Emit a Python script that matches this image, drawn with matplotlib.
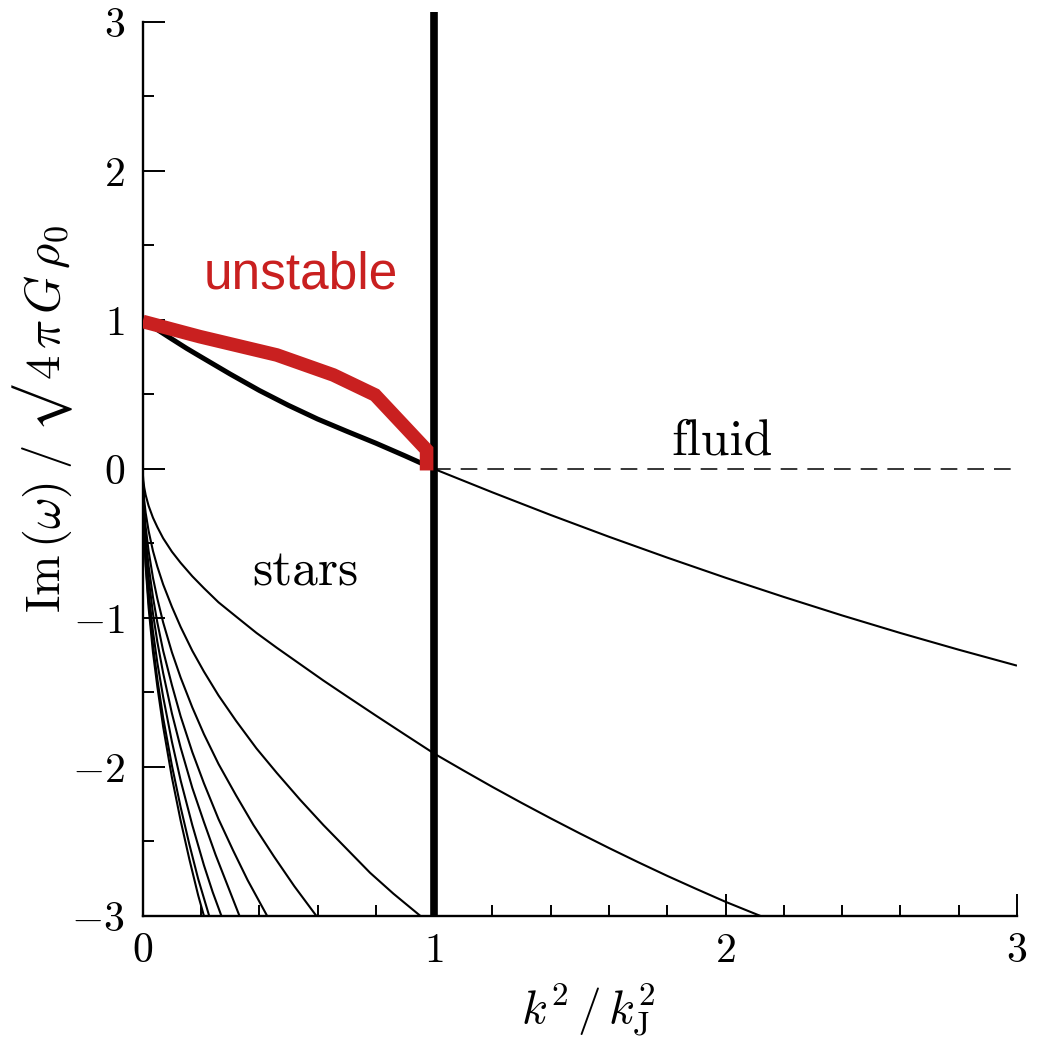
import matplotlib
matplotlib.use("Agg")
import matplotlib.pyplot as plt
from matplotlib.ticker import MultipleLocator, FixedLocator, FixedFormatter

# ---------------- data ----------------
# thick black curve: stellar growth rate for k < kJ
grow_x = [0.0, 0.05, 0.1, 0.15, 0.2, 0.3, 0.4, 0.5, 0.6, 0.7, 0.8, 0.9, 1.0]
grow_y = [1.0, 0.935, 0.872, 0.81, 0.752, 0.637, 0.527, 0.427, 0.335, 0.253, 0.173,
          0.088, 0.0]

# red "unstable" polyline
unst_x = [0.0, 0.196, 0.46, 0.654, 0.797, 0.974, 0.974]
unst_y = [0.99, 0.888, 0.765, 0.631, 0.497, 0.128, -0.01]

# least-damped stellar branch for k > kJ
b_x = [1.0, 1.2, 1.4, 1.6, 1.8, 2.0, 2.2, 2.4, 2.6, 2.8, 3.0]
b_y = [0.0, -0.157, -0.309, -0.455, -0.595, -0.73, -0.859, -0.983, -1.101, -1.213,
       -1.32]

# damped stellar branches starting at the origin
a_x = [0.0, 0.0005, 0.002, 0.005, 0.01, 0.02, 0.035, 0.05, 0.07, 0.1, 0.13, 0.17,
       0.21, 0.26, 0.32, 0.39, 0.46, 0.54, 0.62, 0.7, 0.8, 0.9, 1.0, 1.1, 1.2, 1.3,
       1.4, 1.5, 1.6, 1.7, 1.8, 1.9, 2.0, 2.12]
a_y = [0.0, -0.039, -0.078, -0.124, -0.175, -0.247, -0.327, -0.39, -0.465, -0.555,
       -0.63, -0.72, -0.80, -0.895, -0.99, -1.10, -1.20, -1.31, -1.42, -1.525, -1.655,
       -1.783, -1.91, -2.023, -2.134, -2.241, -2.345, -2.446, -2.544, -2.639, -2.731,
       -2.819, -2.905, -3.0]

c_x = [0.0, 0.0005, 0.002, 0.005, 0.01, 0.02, 0.035, 0.05, 0.07, 0.1, 0.13, 0.17,
       0.21, 0.26, 0.32, 0.39, 0.46, 0.54, 0.62, 0.7, 0.78, 0.86, 0.953]
c_y = [0.0, -0.067, -0.13, -0.21, -0.295, -0.415, -0.55, -0.655, -0.775, -0.925,
       -1.06, -1.22, -1.36, -1.52, -1.69, -1.875, -2.04, -2.22, -2.39, -2.55, -2.71,
       -2.85, -3.0]

d_x = [0.0, 0.0005, 0.002, 0.005, 0.01, 0.02, 0.035, 0.05, 0.07, 0.1, 0.13, 0.17,
       0.21, 0.26, 0.32, 0.38, 0.45, 0.52, 0.596]
d_y = [0.0, -0.087, -0.17, -0.275, -0.39, -0.55, -0.73, -0.87, -1.03, -1.23, -1.40,
       -1.60, -1.78, -1.98, -2.19, -2.39, -2.6, -2.80, -3.0]

e_x = [0.0, 0.0005, 0.002, 0.005, 0.01, 0.02, 0.035, 0.05, 0.07, 0.1, 0.13, 0.17,
       0.21, 0.26, 0.31, 0.36, 0.427]
e_y = [0.0, -0.10, -0.21, -0.325, -0.46, -0.65, -0.86, -1.03, -1.22, -1.45, -1.66,
       -1.90, -2.11, -2.35, -2.56, -2.76, -3.0]

f_x = [0.0, 0.0005, 0.002, 0.005, 0.01, 0.02, 0.035, 0.05, 0.07, 0.1, 0.13, 0.17,
       0.21, 0.25, 0.29, 0.332]
f_y = [0.0, -0.116, -0.23, -0.37, -0.52, -0.73, -0.97, -1.16, -1.37, -1.64, -1.87,
       -2.14, -2.37, -2.59, -2.79, -3.0]

g_x = [0.0, 0.0005, 0.002, 0.005, 0.01, 0.02, 0.035, 0.05, 0.07, 0.1, 0.13, 0.17,
       0.21, 0.24, 0.27]
g_y = [0.0, -0.13, -0.26, -0.41, -0.58, -0.82, -1.09, -1.30, -1.53, -1.83, -2.09,
       -2.39, -2.66, -2.84, -3.0]

h_x = [0.0, 0.0005, 0.002, 0.005, 0.01, 0.02, 0.035, 0.05, 0.07, 0.1, 0.13, 0.16,
       0.19, 0.228]
h_y = [0.0, -0.14, -0.28, -0.445, -0.63, -0.89, -1.18, -1.41, -1.67, -1.99, -2.27,
       -2.52, -2.75, -3.0]

i_x = [0.0, 0.0005, 0.002, 0.005, 0.01, 0.02, 0.035, 0.05, 0.07, 0.1, 0.13, 0.16,
       0.19, 0.21]
i_y = [0.0, -0.15, -0.29, -0.46, -0.655, -0.93, -1.23, -1.46, -1.73, -2.07, -2.36,
       -2.62, -2.86, -3.0]

# fluid (dashed) branch
fluid_x = [1.0, 3.0]
fluid_y = [0.0, 0.0]

# Jeans wavenumber marker
jeans_x = [1.0, 1.0]
jeans_y = [-3.0, 3.065]

x_ticks = [0, 1, 2, 3]
x_tick_labels = [r'$0$', r'$1$', r'$2$', r'$3$']
y_ticks = [-3, -2, -1, 0, 1, 2, 3]
y_tick_labels = [r'$-3$', r'$-2$', r'$-1$', r'$0$', r'$1$', r'$2$', r'$3$']

# ---------------- figure ----------------
plt.rcParams['mathtext.fontset'] = 'cm'
plt.rcParams['font.family'] = ['cmr10', 'DejaVu Serif']
plt.rcParams['axes.formatter.use_mathtext'] = True
plt.rcParams['lines.scale_dashes'] = False

fig = plt.figure(figsize=(10.39, 10.41), dpi=100)
ax = fig.add_axes([0.1374, 0.1201, 0.8414, 0.8588])

thin = dict(color='black', lw=1.5, solid_capstyle='butt', solid_joinstyle='round')
for xs, ys in [(a_x, a_y), (c_x, c_y), (d_x, d_y), (e_x, e_y), (f_x, f_y),
               (g_x, g_y), (h_x, h_y), (i_x, i_y), (b_x, b_y)]:
    ax.plot(xs, ys, **thin)

ax.plot(fluid_x, fluid_y, color='black', lw=1.1, dashes=(12, 7.2))
ax.plot(grow_x, grow_y, color='black', lw=3.6, solid_capstyle='round',
        solid_joinstyle='round', zorder=3)
ax.plot(jeans_x, jeans_y, color='black', lw=5.5, solid_capstyle='butt',
        clip_on=False, zorder=4)
ax.plot(unst_x, unst_y, color='#C92020', lw=9.8, solid_capstyle='butt',
        solid_joinstyle='miter', zorder=5)

ax.text(0.2076, 1.213, 'unstable', color='#C92020', fontsize=37,
        family=['Liberation Sans', 'DejaVu Sans'], ha='left', va='baseline')
ax.text(0.557, -0.785, 'stars', fontsize=37, family=['cmr10', 'DejaVu Serif'],
        ha='center', va='baseline')
ax.text(1.987, 0.094, 'fluid', fontsize=37, family=['cmr10', 'DejaVu Serif'],
        ha='center', va='baseline')

ax.set_xlim(0, 3)
ax.set_ylim(-3, 3)
ax.spines['top'].set_visible(False)
ax.spines['right'].set_visible(False)
for s in ('left', 'bottom'):
    ax.spines[s].set_linewidth(1.7)

ax.xaxis.set_major_locator(FixedLocator(x_ticks))
ax.xaxis.set_major_formatter(FixedFormatter(x_tick_labels))
ax.yaxis.set_major_locator(FixedLocator(y_ticks))
ax.yaxis.set_major_formatter(FixedFormatter(y_tick_labels))
ax.xaxis.set_minor_locator(MultipleLocator(0.2))
ax.yaxis.set_minor_locator(MultipleLocator(0.5))
ax.tick_params(which='both', direction='in', top=False, right=False, width=1.4)
ax.tick_params(which='major', length=15.5, labelsize=30)
ax.tick_params(which='minor', length=7.8)
ax.tick_params(axis='x', which='major', pad=12)
ax.tick_params(axis='y', which='major', pad=13)

ax.set_xlabel(r'$k^{2}\,/\,k_{\mathrm{J}}^{2}$', fontsize=34, va='center', ha='center')
ax.xaxis.set_label_coords(0.509, -0.105)
ax.set_ylabel('$\\mathrm{Im}\\,(\\omega)\\;/\\;\u221a\\,4\\,\\pi\\,G\\,\\rho_{0}$',
              fontsize=35, va='center', ha='center')
ax.yaxis.set_label_coords(-0.114, 0.556)

fig.savefig('out.png', dpi=100)
